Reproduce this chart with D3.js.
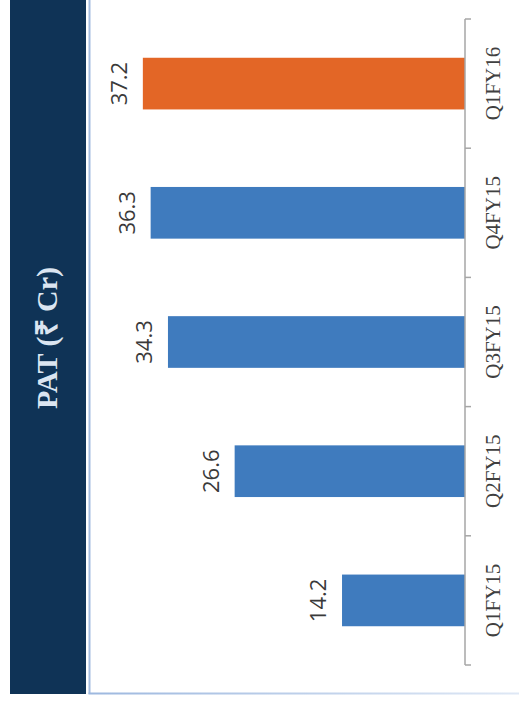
<!DOCTYPE html>
<html>
<head>
<meta charset="utf-8">
<script src="https://cdn.jsdelivr.net/npm/d3@7"></script>
<style>
  html, body { margin: 0; padding: 0; background: #fff; }
  svg { display: block; }
</style>
</head>
<body>
<svg id="chart" width="519" height="707"></svg>
<script>
const quarters = ["Q1FY15", "Q2FY15", "Q3FY15", "Q4FY15", "Q1FY16"]
const pat = [14.2, 26.6, 34.3, 36.3, 37.2]
const highlight = ["Q1FY16"]
const title = "PAT (₹ Cr)"

const W = 519, H = 707
const svg = d3.select("#chart")

// gradient for the bottom frame line
const defs = svg.append("defs")
const grad = defs.append("linearGradient").attr("id", "fade")
grad.append("stop").attr("offset", "0%").attr("stop-color", "#9db8df")
grad.append("stop").attr("offset", "100%").attr("stop-color", "#dfe8f5")

// navy title band
svg.append("rect").attr("x", 10).attr("y", 0).attr("width", 76).attr("height", 694)
  .attr("fill", "#0f3356")
svg.append("text")
  .attr("transform", "translate(57,338) rotate(-90)")
  .attr("text-anchor", "middle")
  .attr("font-family", "'Liberation Serif', serif")
  .attr("font-weight", "bold")
  .attr("font-size", 30)
  .attr("fill", "#dbe5f1")
  .text(title)

// frame lines
svg.append("rect").attr("x", 88.5).attr("y", 0).attr("width", 2).attr("height", 694)
  .attr("fill", "#a3bce0")
svg.append("rect").attr("x", 88.5).attr("y", 692.5).attr("width", W - 88.5).attr("height", 2)
  .attr("fill", "url(#fade)")

// scales
const axisX = 465
const y = d3.scaleBand()
  .domain(quarters.slice().reverse())
  .range([19, 665])
  .paddingInner(0.6)
  .paddingOuter(0.3)
const x = d3.scaleLinear().domain([0, 40]).range([axisX, axisX - 346.4])

const g = svg.append("g")

g.selectAll("rect.bar")
  .data(quarters)
  .join("rect")
  .attr("class", "bar")
  .attr("x", (d, i) => x(pat[i]))
  .attr("y", d => y(d))
  .attr("width", (d, i) => x(0) - x(pat[i]))
  .attr("height", y.bandwidth())
  .attr("fill", d => highlight.includes(d) ? "#e36626" : "#3f7bbe")

// value labels
g.selectAll("text.val")
  .data(quarters)
  .join("text")
  .attr("class", "val")
  .attr("transform", (d, i) => `translate(${x(pat[i]) - 16},${y(d) + y.bandwidth() / 2}) rotate(-90)`)
  .attr("text-anchor", "middle")
  .attr("font-family", "'Open Sans', sans-serif")
  .attr("font-size", 22)
  .attr("fill", "#3a3a3a")
  .text((d, i) => pat[i].toFixed(1))

// category axis
const edges = quarters.slice().reverse().map(d => y(d) - y.step() * y.paddingInner() / 2)
edges.push(y.range()[1])
g.append("line")
  .attr("x1", axisX).attr("x2", axisX)
  .attr("y1", y.range()[0]).attr("y2", y.range()[1])
  .attr("stroke", "#a6a6a6").attr("stroke-width", 1.5)
g.selectAll("line.tick")
  .data(edges)
  .join("line")
  .attr("class", "tick")
  .attr("x1", axisX).attr("x2", axisX + 6)
  .attr("y1", d => d).attr("y2", d => d)
  .attr("stroke", "#a6a6a6").attr("stroke-width", 1.5)

g.selectAll("text.cat")
  .data(quarters)
  .join("text")
  .attr("class", "cat")
  .attr("transform", d => `translate(500,${y(d) + y.bandwidth() / 2}) rotate(-90)`)
  .attr("text-anchor", "middle")
  .attr("font-family", "'Liberation Serif', serif")
  .attr("font-size", 21)
  .attr("fill", "#404040")
  .text(d => d)
</script>
</body>
</html>
